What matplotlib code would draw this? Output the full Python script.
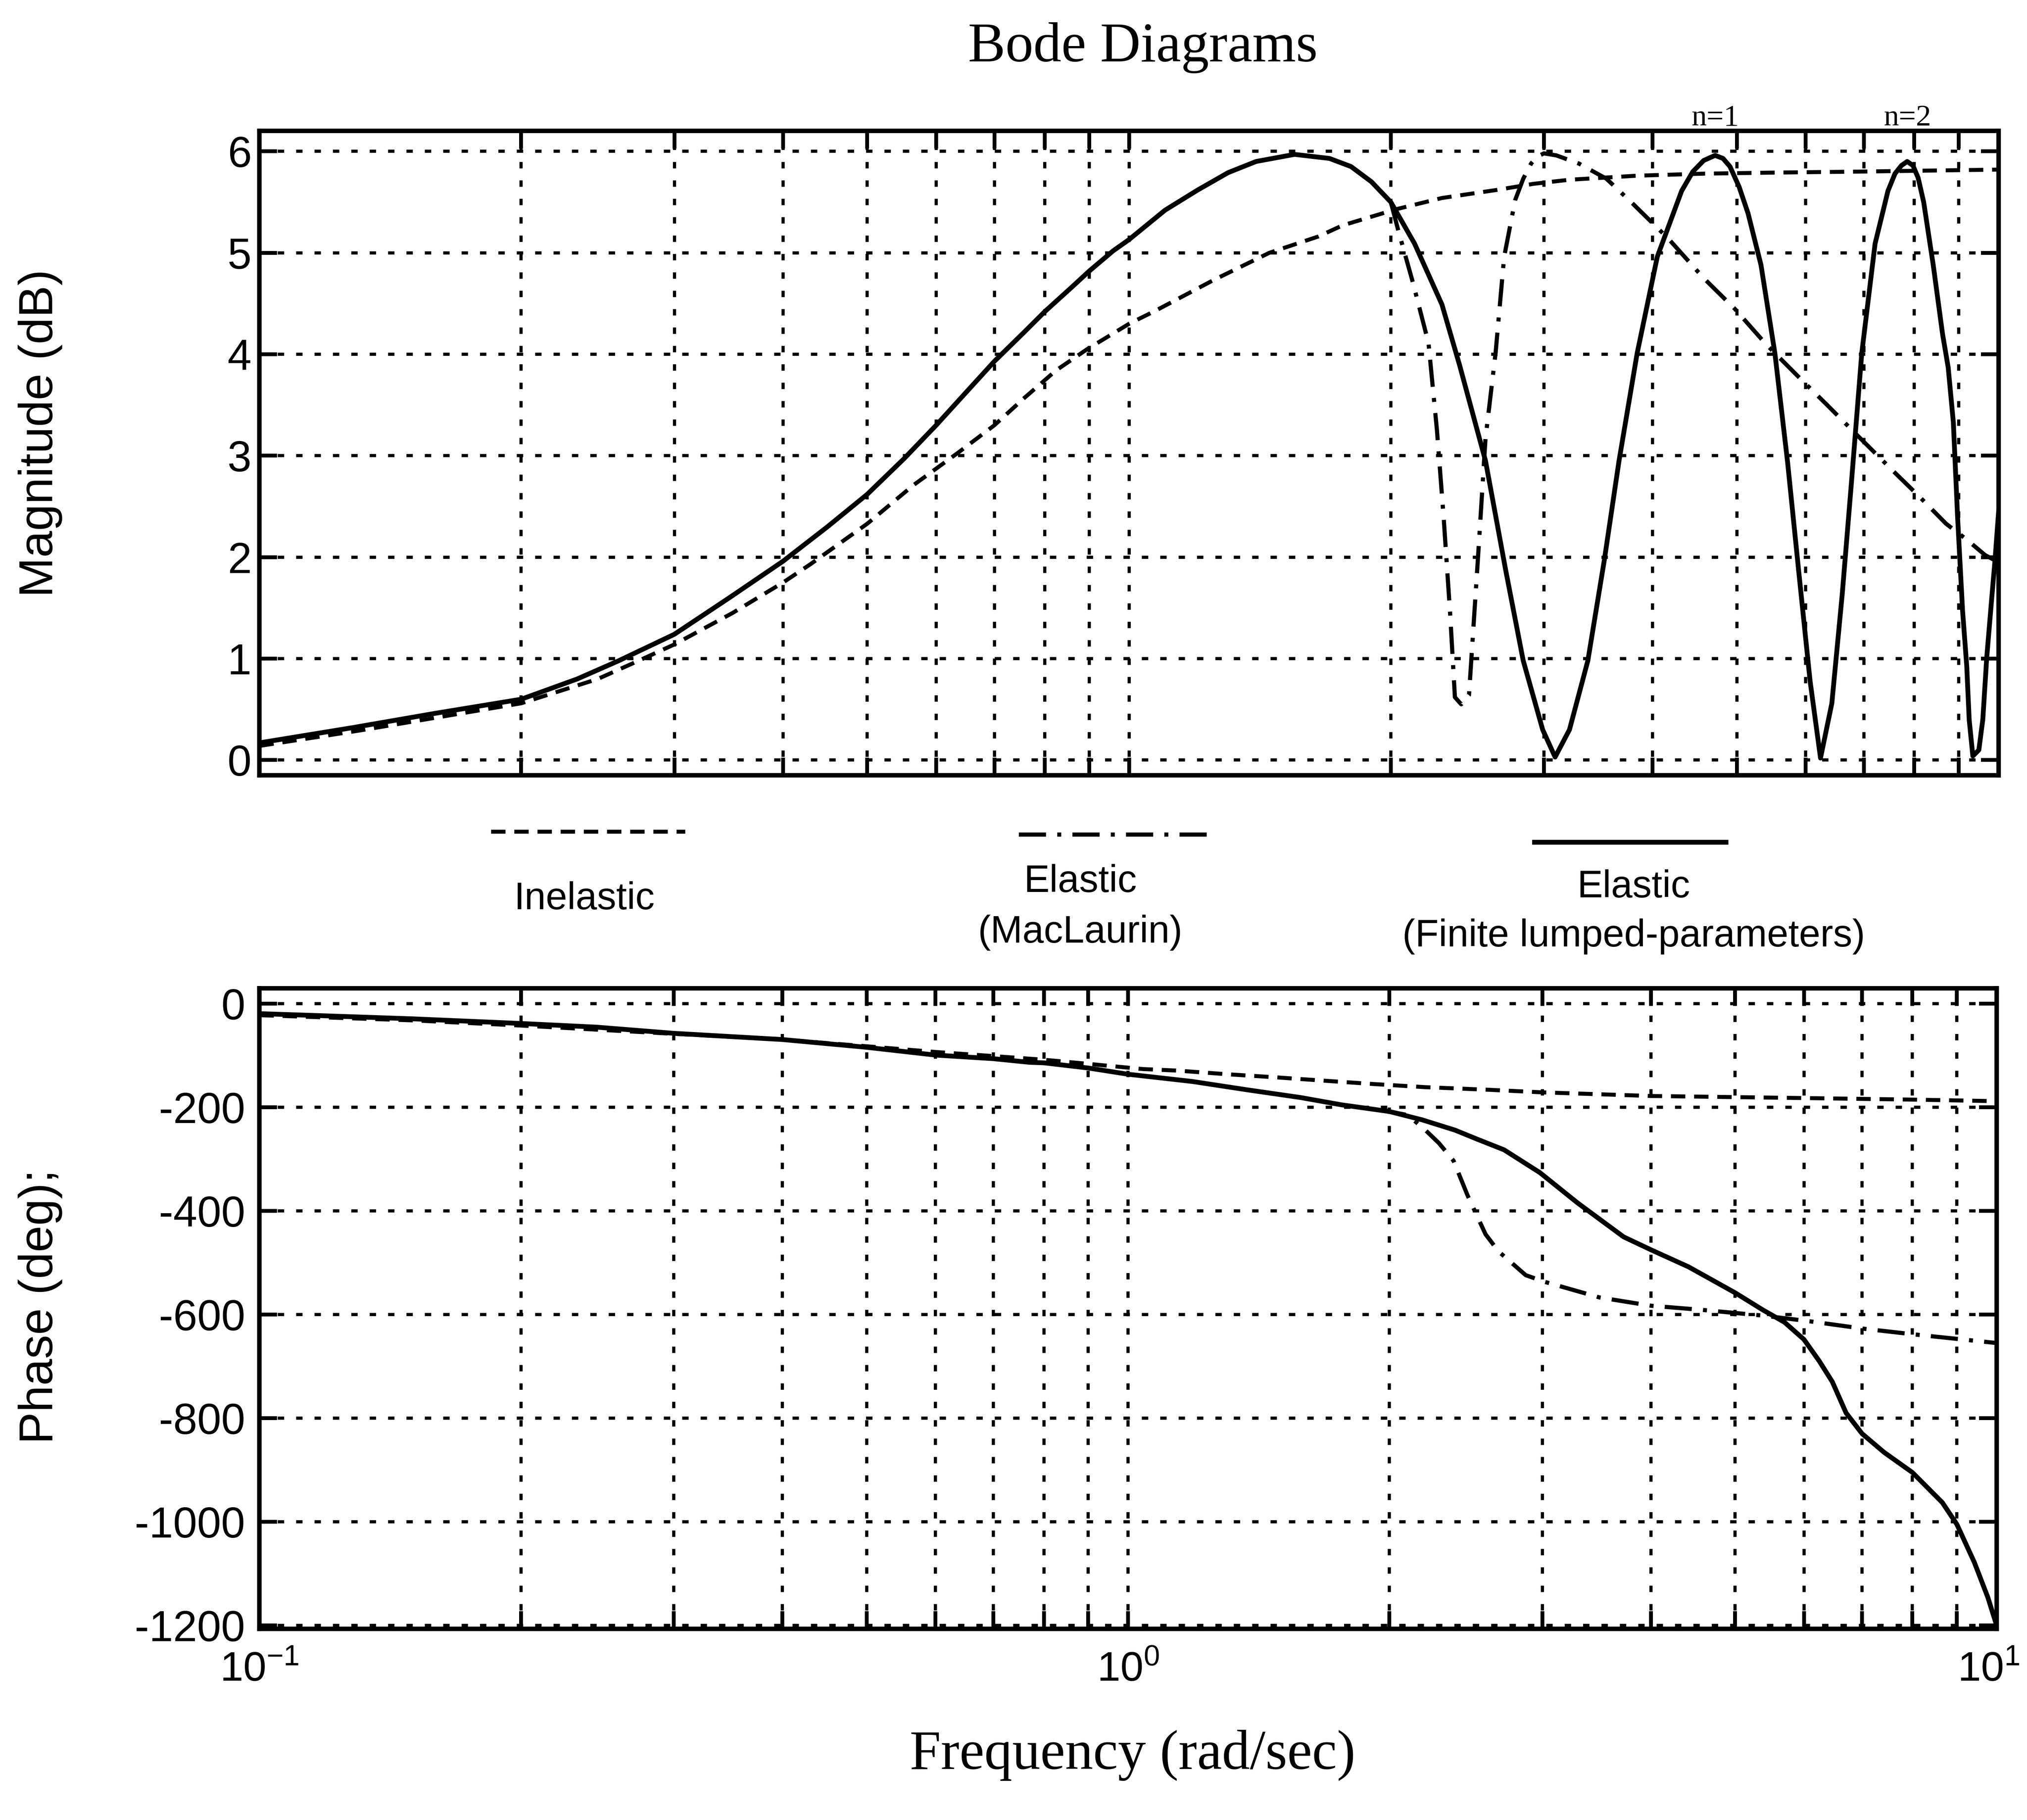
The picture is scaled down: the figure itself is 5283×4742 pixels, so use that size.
import numpy as np
import matplotlib.pyplot as plt
from matplotlib.lines import Line2D
from matplotlib.ticker import LogLocator, NullFormatter
from matplotlib.transforms import ScaledTranslation

# Bode data for the three shaft models, frequency in rad/sec

# elastic, finite lumped-parameters
fin_freq = [0.1, 0.128, 0.159, 0.2, 0.232, 0.259, 0.3, 0.347, 0.4, 0.45, 0.5, 0.551,
            0.6, 0.652, 0.7, 0.758, 0.8, 0.859, 0.9, 0.959, 1.0, 1.1, 1.2, 1.3, 1.4,
            1.55, 1.7, 1.8, 1.9, 2.0, 2.13, 2.29, 2.40, 2.57, 2.71, 2.84, 2.99, 3.09,
            3.21, 3.37, 3.52, 3.66, 3.84, 4.05, 4.32, 4.45, 4.58, 4.72, 4.82, 4.91,
            5.03, 5.15, 5.33, 5.53, 5.72, 5.89, 6.07, 6.24, 6.43, 6.61, 6.77, 6.96,
            7.21, 7.46, 7.6, 7.73, 7.85, 7.97, 8.08, 8.2, 8.41, 8.62, 8.75, 8.87,
            8.97, 9.09, 9.19, 9.25, 9.34, 9.49, 9.59, 9.69, 9.82, 9.9, 10.0]
fin_mag = [0.17, 0.32, 0.46, 0.6, 0.8, 0.98, 1.24, 1.6, 1.96, 2.3, 2.62, 2.97,
           3.3, 3.64, 3.93, 4.22, 4.42, 4.66, 4.82, 5.02, 5.13, 5.42, 5.62, 5.79, 5.9,
           5.97, 5.93, 5.85, 5.7, 5.5, 5.09, 4.49, 3.89, 2.95, 1.88, 0.98, 0.3, 0.03,
           0.3, 0.98, 1.97, 2.95, 4.01, 4.96, 5.61, 5.8, 5.91, 5.96, 5.93, 5.85,
           5.65, 5.39, 4.88, 4.01, 2.93, 1.86, 0.78, 0.02, 0.56, 1.64, 2.72, 4.01,
           5.09, 5.61, 5.78, 5.86, 5.9, 5.86, 5.74, 5.5, 4.88, 4.2, 3.87, 3.33,
           2.4, 1.47, 0.93, 0.4, 0.04, 0.1, 0.4, 1.01, 1.6, 1.95, 2.45]
fin_ph_freq = [0.1, 0.118, 0.15, 0.2, 0.244, 0.3, 0.4, 0.5, 0.6, 0.7, 0.77, 0.8, 0.9,
               1.0, 1.186, 1.37, 1.58, 1.76, 2.0, 2.18, 2.38, 2.52, 2.71, 2.98, 3.29,
               3.72, 4.0, 4.42, 5.0, 5.38, 5.7, 6.0, 6.25, 6.47, 6.71, 7.0, 7.42, 8.0,
               8.66, 9.0, 9.43, 9.77, 10.0]
fin_phase = [-19, -23, -29, -38, -45, -57, -69, -84, -99, -106, -113, -114, -124,
             -136, -150, -166, -181, -195, -208, -224, -244, -261, -282, -326, -384,
             -450, -475, -508, -558, -591, -615, -648, -690, -730, -790, -830, -866,
             -905, -963, -1005, -1079, -1146, -1200]

# elastic, MacLaurin: same as the lumped model below 2 rad/sec
mac_freq_hi = [2.04, 2.12, 2.21, 2.26, 2.30, 2.34, 2.37, 2.41, 2.46, 2.52, 2.57, 2.64,
               2.70, 2.78, 2.84, 2.90, 2.95, 3.0, 3.1, 3.29, 3.54, 3.80, 4.17, 4.58,
               4.97, 5.40, 5.93, 6.35, 6.88, 7.5, 8.1, 8.7, 9.2, 9.65, 10.0]
mac_mag_hi = [5.22, 4.71, 4.11, 3.25, 2.40, 1.45, 0.62, 0.55, 0.64, 2.01, 3.17, 4.02,
              4.96, 5.52, 5.73, 5.88, 5.95, 5.98, 5.96, 5.88, 5.73, 5.48, 5.14, 4.75,
              4.45, 4.10, 3.75, 3.5, 3.2, 2.88, 2.6, 2.33, 2.17, 2.02, 1.95]
mac_ph_freq_hi = [2.10, 2.20, 2.28, 2.37, 2.46, 2.58, 2.67, 2.87, 3.02, 3.20, 3.49,
                  4.0, 4.58, 5.38, 6.09, 7.0, 8.0, 9.0, 10.0]
mac_phase_hi = [-215, -244, -269, -303, -370, -445, -478, -524, -537, -549, -567,
                -583, -591, -602, -613, -627, -638, -647, -655]

# inelastic
inel_freq = [0.1, 0.13, 0.16, 0.2, 0.245, 0.273, 0.3, 0.35, 0.4, 0.43, 0.5, 0.565,
             0.636, 0.7, 0.758, 0.824, 0.895, 1.0, 1.073, 1.25, 1.45, 1.65, 1.76,
             2.03, 2.29, 2.65, 2.92, 3.21, 3.84, 4.58, 5.47, 6.88, 10.0]
inel_mag = [0.14, 0.29, 0.42, 0.56, 0.8, 0.98, 1.14, 1.45, 1.75, 1.93, 2.33, 2.71,
            3.03, 3.30, 3.57, 3.84, 4.05, 4.3, 4.43, 4.73, 5.0, 5.16, 5.27,
            5.43, 5.54, 5.62, 5.68, 5.72, 5.76, 5.78, 5.79, 5.8, 5.82]
inel_ph_freq = [0.1, 0.15, 0.2, 0.3, 0.4, 0.5, 0.6, 0.7, 0.8, 0.9, 1.04, 1.14, 1.30,
                1.48, 1.70, 1.92, 2.2, 2.6, 3.0, 4.0, 6.0, 8.0, 10.0]
inel_phase = [-22, -32, -42, -58, -69, -82, -93, -101, -108, -116, -126, -129, -136,
              -142, -149, -155, -161, -166, -171, -178, -182, -185, -188]

mag_ticks = [0, 1, 2, 3, 4, 5, 6]
phase_ticks = [0, -200, -400, -600, -800, -1000, -1200]
decade_ticks = [0.1, 1, 10]
decade_labels = [r'$\mathregular{10^{-1}}$', r'$\mathregular{10^{0}}$', r'$\mathregular{10^{1}}$']

fin_freq = np.array(fin_freq)
low = fin_freq <= 2.0
mac_freq = np.concatenate([fin_freq[low], mac_freq_hi])
mac_mag = np.concatenate([np.array(fin_mag)[low], mac_mag_hi])
fin_ph_freq = np.array(fin_ph_freq)
plow = fin_ph_freq <= 2.0
mac_ph_freq = np.concatenate([fin_ph_freq[plow], mac_ph_freq_hi])
mac_phase = np.concatenate([np.array(fin_phase)[plow], mac_phase_hi])

SANS = 'Liberation Sans'
SERIF = 'Liberation Serif'
plt.rcParams['font.family'] = SANS
plt.rcParams['axes.unicode_minus'] = False
plt.rcParams['lines.scale_dashes'] = False
plt.rcParams['mathtext.fontset'] = 'custom'
plt.rcParams['mathtext.rm'] = SANS

inel_style = dict(color='black', lw=2.5, linestyle=(0, (9, 5.5)))
mac_style = dict(color='black', lw=2.6, linestyle=(0, (17, 7, 2.5, 7)))
fin_style = dict(color='black', lw=3.0, linestyle='-')
grid_style = dict(color='black', lw=2.0, linestyle=(0, (4, 7.5)))

fig = plt.figure(figsize=(5283 / 300, 4742 / 300), dpi=300)
ax1 = fig.add_axes([0.128, 0.574, 0.858, 0.354])
ax2 = fig.add_axes([0.128, 0.105, 0.857, 0.352])

ax1.plot(inel_freq, inel_mag, **inel_style)
ax1.plot(mac_freq, mac_mag, **mac_style)
ax1.plot(fin_freq, fin_mag, **fin_style)

ax2.plot(inel_ph_freq, inel_phase, **inel_style)
ax2.plot(mac_ph_freq, mac_phase, **mac_style)
ax2.plot(fin_ph_freq, fin_phase, **fin_style)

for ax in (ax1, ax2):
    ax.set_xscale('log')
    ax.set_xlim(0.1, 10)
    ax.set_xticks(decade_ticks)
    ax.xaxis.set_minor_locator(LogLocator(base=10, subs=np.arange(2, 10)))
    ax.xaxis.set_minor_formatter(NullFormatter())
    ax.grid(True, which='both', axis='x', **grid_style)
    ax.grid(True, which='major', axis='y', **grid_style)
    ax.tick_params(which='both', direction='in', top=True, right=True,
                   length=11, width=2.4, labelsize=27)
    for s in ax.spines.values():
        s.set_linewidth(2.8)

ax1.set_ylim(-0.15, 6.2)
ax1.set_yticks(mag_ticks)
ax1.tick_params(labelbottom=False)
ax1.tick_params(axis='y', pad=5)

ax2.set_ylim(-1207, 30)
ax2.set_yticks(phase_ticks)
ax2.set_xticklabels(decade_labels, fontsize=26)
ax2.tick_params(axis='x', pad=14)
ax2.tick_params(axis='y', pad=9)
# keep the last decade label inside the figure
last = ax2.get_xticklabels()[-1]
last.set_transform(last.get_transform() + ScaledTranslation(-0.07, 0, fig.dpi_scale_trans))

# mode labels above the two resonance peaks
fin_mag_arr = np.array(fin_mag)
for name, lo, hi in [('n=1', 4.0, 6.0), ('n=2', 7.0, 9.0)]:
    sel = (fin_freq > lo) & (fin_freq < hi)
    k = np.argmax(fin_mag_arr[sel])
    ax1.text(fin_freq[sel][k], 6.19, name, ha='center', va='bottom',
             family=SERIF, fontsize=19, clip_on=False)

# line key between the two panels
key = [((0.2423, 0.338), 0.5430, inel_style, 0.2883, ['Inelastic'], [0.506]),
       ((0.5026, 0.5976), 0.5416, mac_style, 0.533, ['Elastic', '(MacLaurin)'], [0.5153, 0.4876]),
       ((0.757, 0.8514), 0.5373, fin_style, 0.806, ['Elastic', '(Finite lumped-parameters)'], [0.5124, 0.4854])]
for (x0, x1), ly, st, tx, lines, tys in key:
    fig.add_artist(Line2D([x0, x1], [ly, ly], transform=fig.transFigure, **st))
    for txt, ty in zip(lines, tys):
        fig.text(tx, ty, txt, ha='center', va='center', fontsize=24, family=SANS)

fig.text(0.5638, 0.9737, 'Bode Diagrams', ha='center', va='center', family=SERIF, fontsize=35)
fig.text(0.5587, 0.0355, 'Frequency (rad/sec)', ha='center', va='center', family=SERIF, fontsize=35)
fig.text(0.0198, 0.762, 'Magnitude (dB)', rotation=90, ha='center', va='center', fontsize=30)
fig.text(0.0198, 0.282, 'Phase (deg);', rotation=90, ha='center', va='center', fontsize=30)

fig.savefig('out.png', dpi=300, facecolor='white')
